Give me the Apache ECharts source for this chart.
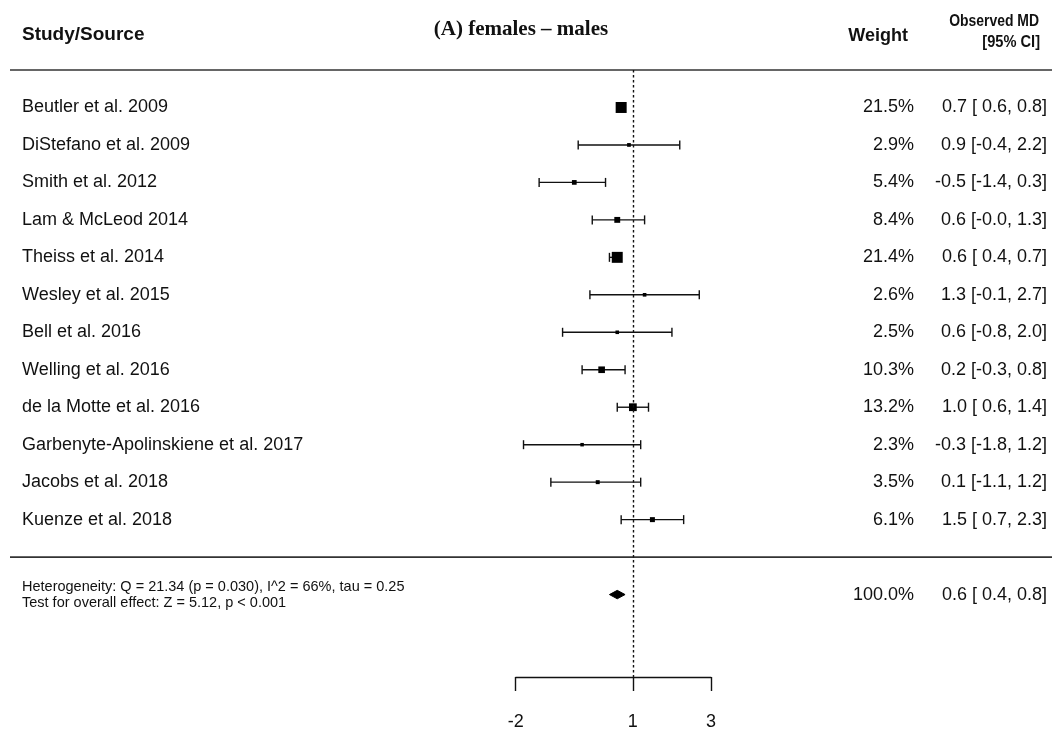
<!DOCTYPE html>
<html><head><meta charset="utf-8">
<script src="https://cdn.jsdelivr.net/npm/echarts@6/dist/echarts.min.js"></script>
<style>html,body{margin:0;padding:0;background:#fff}#chart{width:1052px;height:731px}</style>
</head><body><div id="chart"></div>
<script>
// ---- data ----
const studies = ["Beutler et al. 2009","DiStefano et al. 2009","Smith et al. 2012","Lam & McLeod 2014","Theiss et al. 2014","Wesley et al. 2015","Bell et al. 2016","Welling et al. 2016","de la Motte et al. 2016","Garbenyte-Apolinskiene et al. 2017","Jacobs et al. 2018","Kuenze et al. 2018"];
const estimates = [0.7, 0.9, -0.5, 0.6, 0.6, 1.3, 0.6, 0.2, 1.0, -0.3, 0.1, 1.5];
const ciLower   = [0.6, -0.4, -1.4, -0.04, 0.4, -0.1, -0.8, -0.3, 0.6, -1.8, -1.1, 0.7];
const ciUpper   = [0.8, 2.2, 0.3, 1.3, 0.7, 2.7, 2.0, 0.8, 1.4, 1.2, 1.2, 2.3];
const weights   = [21.5, 2.9, 5.4, 8.4, 21.4, 2.6, 2.5, 10.3, 13.2, 2.3, 3.5, 6.1];
const overall = [0.6, 0.4, 0.8];          // estimate, lower, upper
const overallWeight = 100.0;
const xTickValues = [-2, 1, 3];
const referenceValue = 1;
const statsLines = ["Heterogeneity: Q = 21.34 (p = 0.030), I^2 = 66%, tau = 0.25","Test for overall effect: Z = 5.12, p < 0.001"];
const title = "(A) females \u2013 males";

// ---- layout / style ----
const FONT = '"Liberation Sans", Arial, sans-serif';
const ROW_FS = 18, TXT = '#111';
const COL_NAME_X = 22, COL_W_X = 914, COL_MD_X = 1047;
const summaryRow = studies.length + 1, sepRows = [-1, studies.length];
const minW = Math.min(...weights), maxW = Math.max(...weights);
const f1 = v => v.toFixed(1);
const padL = s => s.startsWith('-') ? s : ' ' + s;
const mdText = (e, l, u) => f1(e) + ' [' + padL(f1(l)) + ', ' + f1(u) + ']';

const chart = echarts.init(document.getElementById('chart'), null, {renderer: 'canvas'});
const rowData = studies.map((s, i) => [estimates[i], ciLower[i], ciUpper[i], i, weights[i]]);

function txt(x, y, text, align, fs, weight, family) {
  return {type: 'text', style: {x, y, text, align, verticalAlign: 'middle', fill: TXT,
    font: (weight || 'normal') + ' ' + fs + 'px ' + (family || FONT)}};
}

const option = {
  animation: false,
  backgroundColor: '#fff',
  grid: {left: 515.7, width: 195.3, top: 70, height: 609},
  xAxis: {type: 'value', min: -2, max: 3, splitLine: {show: false},
    axisLine: {show: true, onZero: false, lineStyle: {color: '#111', width: 1.4}},
    axisTick: {show: true, length: 14, lineStyle: {color: '#111', width: 1.4}, customValues: xTickValues},
    axisLabel: {customValues: xTickValues, margin: 36, fontSize: 18, fontFamily: FONT, color: TXT}},
  yAxis: {type: 'value', inverse: true, min: -1, max: 15.2, show: false},
  graphic: [
    {type: 'text', x: 22, y: 35, style: {text: 'Study/Source', font: 'bold 19px ' + FONT, fill: TXT, align: 'left', verticalAlign: 'middle'}},
    {type: 'text', x: 521, y: 30, style: {text: title, font: 'bold 21px "Liberation Serif", "Times New Roman", serif', fill: TXT, align: 'center', verticalAlign: 'middle'}},
    {type: 'text', x: 908, y: 36, style: {text: 'Weight', font: 'bold 18px ' + FONT, fill: TXT, align: 'right', verticalAlign: 'middle'}},
    {type: 'text', x: 1039, y: 21, scaleX: 0.82, style: {x: 0, y: 0, text: 'Observed MD', font: 'bold 17px ' + FONT, fill: TXT, align: 'right', verticalAlign: 'middle'}},
    {type: 'text', x: 1040, y: 42, scaleX: 0.86, style: {x: 0, y: 0, text: '[95% CI]', font: 'bold 17px ' + FONT, fill: TXT, align: 'right', verticalAlign: 'middle'}}
  ],
  series: [
    { // separator lines
      type: 'custom', clip: false, silent: true,
      data: sepRows.map(r => [0, r]),
      encode: {x: 0, y: 1},
      renderItem: (p, api) => {
        const y = api.coord([0, api.value(1)])[1];
        return {type: 'line', shape: {x1: 10, y1: y, x2: 1052, y2: y}, style: {stroke: '#333', lineWidth: 1.6}};
      },
      markLine: {silent: true, symbol: 'none', label: {show: false},
        lineStyle: {color: '#111', type: [2.5, 2.5], width: 1.4},
        data: [{xAxis: referenceValue}]}
    },
    { // studies
      type: 'custom', clip: false, silent: true,
      data: rowData,
      encode: {x: [0, 1, 2], y: 3},
      renderItem: (p, api) => {
        const e = api.value(0), l = api.value(1), u = api.value(2), r = api.value(3), w = api.value(4);
        const c = api.coord([e, r]), a = api.coord([l, r]), b = api.coord([u, r]);
        const sz = 3.5 + (w - minW) / (maxW - minW) * 7.5;
        const st = {stroke: '#111', lineWidth: 1.4};
        return {type: 'group', children: [
          {type: 'line', shape: {x1: a[0], y1: a[1], x2: b[0], y2: b[1]}, style: st},
          {type: 'line', shape: {x1: a[0], y1: a[1] - 4.5, x2: a[0], y2: a[1] + 4.5}, style: st},
          {type: 'line', shape: {x1: b[0], y1: b[1] - 4.5, x2: b[0], y2: b[1] + 4.5}, style: st},
          {type: 'rect', shape: {x: c[0] - sz / 2, y: c[1] - sz / 2, width: sz, height: sz}, style: {fill: '#000'}},
          txt(COL_NAME_X, c[1], studies[p.dataIndex], 'left', ROW_FS),
          txt(COL_W_X, c[1], f1(w) + '%', 'right', ROW_FS),
          txt(COL_MD_X, c[1], mdText(e, l, u), 'right', ROW_FS)
        ]};
      }
    },
    { // summary
      type: 'custom', clip: false, silent: true,
      data: [[overall[0], overall[1], overall[2], summaryRow, overallWeight]],
      encode: {x: [0, 1, 2], y: 3},
      renderItem: (p, api) => {
        const e = api.value(0), l = api.value(1), u = api.value(2), r = api.value(3), w = api.value(4);
        const c = api.coord([e, r]), a = api.coord([l, r]), b = api.coord([u, r]);
        return {type: 'group', children: [
          {type: 'polygon', shape: {points: [[a[0], c[1]], [c[0], c[1] - 4.2], [b[0], c[1]], [c[0], c[1] + 4.2]]}, style: {fill: '#000', stroke: '#000', lineWidth: 1}},
          txt(COL_NAME_X, c[1] - 8, statsLines[0], 'left', 14.5),
          txt(COL_NAME_X, c[1] + 8, statsLines[1], 'left', 14.5),
          txt(COL_W_X, c[1], f1(w) + '%', 'right', ROW_FS),
          txt(COL_MD_X, c[1], mdText(e, l, u), 'right', ROW_FS)
        ]};
      }
    }
  ]
};
chart.setOption(option);
</script></body></html>
